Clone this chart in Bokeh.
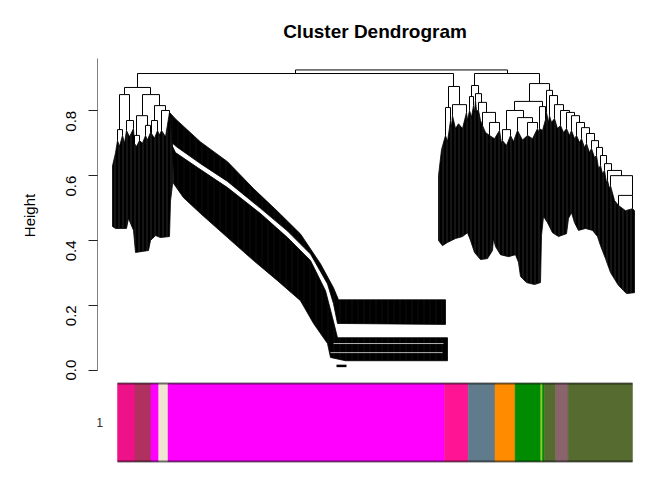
import math

from bokeh.plotting import figure
from bokeh.models import Range1d, LinearAxis, FixedTicker, NumeralTickFormatter, Label
from bokeh.layouts import column
from bokeh.embed import file_html
from bokeh.resources import INLINE

# leaf positions run 0..515 along the colour bar, heights are dendrogram heights
# each merge: left child x, right child x, merge height, left child height, right child height
merge_xl = [178, 20, 357,
            7, 2, 0, 9, 25, 19, 17, 28, 37, 34, 44,
            331, 328, 335, 354, 352, 358, 361, 365, 372,
            412, 397, 389, 385, 400, 410, 422, 429,
            432, 437, 443, 449, 454, 459, 464, 469, 474, 479, 483, 487, 490, 493, 501]
merge_xr = [390, 336, 422,
            33, 12, 5, 16, 42, 30, 22, 33, 48, 40, 52,
            342, 333, 349, 361, 356, 364, 369, 378, 382,
            432, 425, 406, 393, 415, 420, 428, 435,
            440, 446, 452, 457, 462, 467, 472, 477, 481, 485, 489, 494, 504, 515, 515]
merge_h = [0.926, 0.915, 0.915,
           0.872, 0.850, 0.742, 0.770, 0.850, 0.785, 0.724, 0.755, 0.816, 0.770, 0.801,
           0.875, 0.810, 0.819, 0.878, 0.844, 0.853, 0.826, 0.795, 0.764,
           0.884, 0.829, 0.801, 0.742, 0.779, 0.764, 0.813, 0.863,
           0.847, 0.819, 0.801, 0.795, 0.785, 0.764, 0.748, 0.730, 0.708, 0.687,
           0.662, 0.637, 0.616, 0.600, 0.539]
left_h = [0.915, 0.872, 0.878,
          0.850, 0.742, 0.708, 0.739, 0.785, 0.724, 0.699, 0.724, 0.770, 0.730, 0.739,
          0.810, 0.724, 0.785, 0.844, 0.801, 0.832, 0.801, 0.755, 0.724,
          0.829, 0.801, 0.742, 0.708, 0.739, 0.724, 0.745, 0.795,
          0.785, 0.776, 0.755, 0.745, 0.739, 0.724, 0.714, 0.699, 0.684, 0.662,
          0.631, 0.616, 0.585, 0.569, 0.508]
right_h = [0.915, 0.875, 0.884,
           0.850, 0.770, 0.724, 0.745, 0.816, 0.755, 0.708, 0.733, 0.801, 0.739, 0.795,
           0.819, 0.770, 0.795, 0.853, 0.816, 0.826, 0.795, 0.764, 0.739,
           0.863, 0.813, 0.779, 0.724, 0.764, 0.745, 0.773, 0.847,
           0.819, 0.801, 0.795, 0.785, 0.764, 0.748, 0.730, 0.708, 0.687, 0.662,
           0.637, 0.616, 0.600, 0.539, 0.498]

# dense leaf masses (outline: top edge left to right, then bottom edge back)
left_mass_x = [-5, -2, 0, 2, 5, 7, 9, 12, 16, 17, 19, 22, 25, 28, 30, 33, 34, 37, 40, 42, 44, 48, 52, 55,
               55, 53, 52, 43, 38, 33, 31, 18, 16, 11, 9, -2, -5]
left_mass_h = [0.630, 0.670, 0.708, 0.690, 0.724, 0.700, 0.739, 0.720, 0.745, 0.699, 0.690, 0.708, 0.700,
               0.724, 0.710, 0.733, 0.730, 0.715, 0.739, 0.725, 0.739, 0.720, 0.795, 0.700,
               0.573, 0.522, 0.412, 0.409, 0.415, 0.400, 0.369, 0.363, 0.431, 0.468, 0.437, 0.437, 0.443]

upper_band_x = [52, 58, 83, 110, 136, 160, 183, 203, 216, 221, 328,
                328, 220, 216, 210, 193, 170, 143, 110, 83, 59, 55]
upper_band_h = [0.795, 0.775, 0.704, 0.643, 0.560, 0.490, 0.420, 0.328, 0.254, 0.217, 0.217,
                0.141, 0.144, 0.205, 0.266, 0.358, 0.429, 0.499, 0.582, 0.637, 0.689, 0.700]

lower_band_x = [55, 58, 80, 110, 143, 170, 193, 208, 215, 220, 330,
                330, 228, 213, 210, 196, 183, 160, 136, 110, 83, 66, 56]
lower_band_h = [0.690, 0.671, 0.625, 0.563, 0.483, 0.409, 0.338, 0.245, 0.162, 0.100, 0.100,
                0.029, 0.029, 0.039, 0.082, 0.144, 0.214, 0.276, 0.338, 0.409, 0.483, 0.532, 0.576]

right_mass_x = [321, 324, 328, 330, 333, 334, 335, 338, 341, 345, 349, 350, 352, 354, 356, 357, 358, 359,
                361, 363, 365, 368, 372, 377, 382, 384, 385, 389, 393, 396, 400, 405, 410, 415, 420, 421,
                422, 425, 428, 429, 431, 432, 434, 437, 440, 443, 446, 449, 452, 454, 457, 459, 462, 464,
                467, 469, 472, 474, 477, 479, 481, 483, 485, 487, 489, 490, 492, 493, 497, 501, 508, 515, 517,
                517, 509, 501, 493, 488, 483, 480, 475, 468, 461, 457, 454, 451, 449, 441, 435, 430, 426,
                424, 423, 417, 409, 403, 401, 398, 391, 383, 378, 376, 375, 370, 363, 357, 353, 350, 345,
                338, 330, 325, 321]
right_mass_h = [0.600, 0.680, 0.724, 0.705, 0.770, 0.750, 0.785, 0.745, 0.760, 0.745, 0.795, 0.770, 0.801,
                0.780, 0.816, 0.795, 0.832, 0.800, 0.801, 0.770, 0.755, 0.733, 0.724, 0.714, 0.739, 0.700,
                0.708, 0.693, 0.724, 0.705, 0.739, 0.710, 0.724, 0.714, 0.745, 0.733, 0.745, 0.739, 0.773,
                0.795, 0.764, 0.785, 0.764, 0.776, 0.745, 0.755, 0.733, 0.745, 0.724, 0.739, 0.714, 0.724,
                0.702, 0.714, 0.687, 0.699, 0.671, 0.684, 0.656, 0.662, 0.622, 0.631, 0.606, 0.616, 0.579,
                0.585, 0.560, 0.569, 0.523, 0.508, 0.492, 0.498, 0.492,
                0.239, 0.236, 0.261, 0.301, 0.344, 0.384, 0.412, 0.431, 0.437, 0.431, 0.455, 0.486, 0.468,
                0.421, 0.412, 0.424, 0.455, 0.474, 0.415, 0.270, 0.264, 0.270, 0.289, 0.332, 0.356, 0.350,
                0.356, 0.381, 0.406, 0.369, 0.344, 0.341, 0.363, 0.400, 0.424, 0.412, 0.406, 0.394, 0.384,
                0.400]

# light streaks inside the low flat band, and the lowest leaf label mark
streak_x0 = [216, 213]
streak_x1 = [326, 325]
streak_h = [0.082, 0.054]
low_mark_x0, low_mark_x1, low_mark_h = 219, 229, 0.013

# module colours under the tree
bar_left = [0, 17.5, 33.5, 41.2, 50.5, 327, 350.7, 377.5, 397.6, 423.3, 424.9, 427, 438.3, 450.6]
bar_right = [17.5, 33.5, 41.2, 50.5, 327, 350.7, 377.5, 397.6, 423.3, 424.9, 427, 438.3, 450.6, 515]
bar_colors = ["#EE1289", "#B03060", "#FF00FF", "#EEE6D0", "#FF00FF", "#FF1493", "#607B8B",
              "#FF8C00", "#008B00", "#9ACD32", "#008B00", "#556B2F", "#8B636C", "#556B2F"]
bar_label = "1"

FONT = "Liberation Sans"

p = figure(width=664, height=380, title="Cluster Dendrogram",
           x_range=Range1d(-20, 535), y_range=Range1d(-0.032, 0.986),
           x_axis_location=None, y_axis_location=None,
           min_border_left=97, min_border_right=12, min_border_top=50, min_border_bottom=0,
           outline_line_color=None, output_backend="svg", toolbar_location=None)
p.grid.visible = False
p.title.align = "center"
p.title.text_font = FONT
p.title.text_font_size = "19px"
p.title.text_font_style = "bold"
p.title.text_color = "black"
p.title.standoff = 18

yaxis = LinearAxis(bounds=(0, 0.96), ticker=FixedTicker(ticks=[0, 0.2, 0.4, 0.6, 0.8]),
                   axis_label="Height", formatter=NumeralTickFormatter(format="0.0"))
yaxis.major_label_orientation = math.pi / 2
yaxis.major_label_text_font = FONT
yaxis.major_label_text_font_size = "15px"
yaxis.major_label_text_color = "black"
yaxis.major_label_standoff = 17
yaxis.axis_label_text_font = FONT
yaxis.axis_label_text_font_size = "15px"
yaxis.axis_label_text_font_style = "normal"
yaxis.axis_label_text_color = "black"
yaxis.axis_label_standoff = 21
yaxis.axis_line_color = "#808080"
yaxis.major_tick_line_color = "#222222"
yaxis.major_tick_out = 9
yaxis.major_tick_in = 0
yaxis.minor_tick_line_color = None
p.add_layout(yaxis, "left")

# dense leaf masses first, then the tree lines on top
p.patches(xs=[upper_band_x, lower_band_x], ys=[upper_band_h, lower_band_h],
          fill_color="black", line_color="black", line_width=0.8,
          hatch_pattern="|", hatch_color="white", hatch_alpha=0.1,
          hatch_scale=6, hatch_weight=0.5)
p.patches(xs=[left_mass_x, right_mass_x], ys=[left_mass_h, right_mass_h],
          fill_color="black", line_color="black", line_width=0.8,
          hatch_pattern="|", hatch_color="white", hatch_alpha=0.28,
          hatch_scale=4, hatch_weight=0.6)
p.segment(x0=streak_x0, y0=streak_h, x1=streak_x1, y1=streak_h,
          line_color="white", line_alpha=0.7, line_width=1)
p.segment(x0=[low_mark_x0], y0=[low_mark_h], x1=[low_mark_x1], y1=[low_mark_h],
          line_color="black", line_width=2.5)

seg_x0 = merge_xl + merge_xl + merge_xr
seg_x1 = merge_xr + merge_xl + merge_xr
seg_y0 = merge_h + merge_h + merge_h
seg_y1 = merge_h + left_h + right_h
p.segment(x0=seg_x0, y0=seg_y0, x1=seg_x1, y1=seg_y1, line_color="black", line_width=1)

pb = figure(width=664, height=92, title=None,
            x_range=p.x_range, y_range=Range1d(-0.141, 1.038),
            x_axis_location=None, y_axis_location=None,
            min_border_left=97, min_border_right=12, min_border_top=0, min_border_bottom=0,
            outline_line_color=None, output_backend="svg", toolbar_location=None)
pb.grid.visible = False
pb.quad(left=bar_left, right=bar_right, bottom=0, top=1,
        fill_color=bar_colors, line_color=bar_colors, line_width=0.5)
pb.segment(x0=[0, 0], y0=[1, 0], x1=[515, 515], y1=[1, 0],
           line_color="black", line_alpha=0.55, line_width=2)
pb.add_layout(Label(x=-18, y=0.5, text=bar_label, text_align="center", text_baseline="middle",
                    text_font=FONT, text_font_size="13px", text_color="#333333"))

layout = column(p, pb)
open("out.html", "w").write(file_html(layout, INLINE))
